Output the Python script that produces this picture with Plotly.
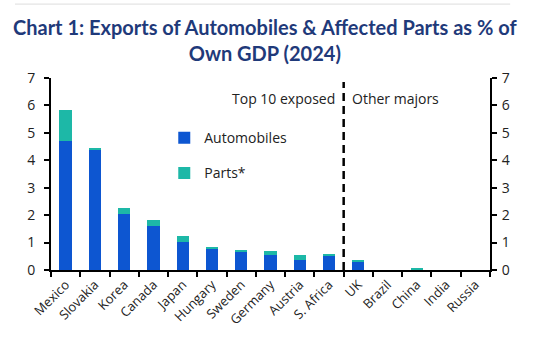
import plotly.graph_objects as go

countries = ["Mexico", "Slovakia", "Korea", "Canada", "Japan", "Hungary", "Sweden",
             "Germany", "Austria", "S. Africa", "UK", "Brazil", "China", "India", "Russia"]
automobiles = [4.71, 4.40, 2.03, 1.59, 1.01, 0.75, 0.68, 0.54, 0.35, 0.53, 0.32, 0.0, 0.0, 0.0, 0.0]
parts = [1.12, 0.05, 0.22, 0.22, 0.22, 0.08, 0.05, 0.15, 0.21, 0.02, 0.05, 0.0, 0.06, 0.0, 0.0]
y_ticks = [0, 1, 2, 3, 4, 5, 6, 7]

BLUE = "#0D56D1"
TEAL = "#1DB8A7"
NAVY = "#1F3A7A"
FONT = "Open Sans"

fig = go.Figure()
fig.add_trace(go.Bar(x=countries, y=automobiles, name="Automobiles", marker_color=BLUE,
                     marker_line_width=0, legendgroup="a", width=0.42))
fig.add_trace(go.Bar(x=countries, y=parts, name="Parts*", marker_color=TEAL,
                     marker_line_width=0, legendgroup="b", width=0.42))
# invisible trace for right axis
fig.add_trace(go.Scatter(x=[countries[0]], y=[0], yaxis="y2", mode="markers",
                         marker_opacity=0, showlegend=False, hoverinfo="skip"))

axis_common = dict(range=[0, 7], tickvals=y_ticks, ticks="outside", ticklen=5, tickwidth=2,
                   tickcolor="black", showline=True, linecolor="black", linewidth=2,
                   showgrid=False, zeroline=False,
                   tickfont=dict(family=FONT, size=14, color="#222"))

fig.update_layout(
    width=546, height=346,
    margin=dict(l=51, r=56, t=78, b=76),
    paper_bgcolor="white", plot_bgcolor="white",
    barmode="stack", bargap=0.58,
    title=dict(text="<b>Chart 1: Exports of Automobiles & Affected Parts as % of<br>Own GDP (2024)</b>",
               x=0.485, xanchor="center", xref="container", y=0.90, yanchor="top",
               font=dict(family="Lato", size=20, color=NAVY)),
    xaxis=dict(type="category", range=[-0.5, 14.5], tickangle=-45, ticks="outside",
               tickson="boundaries", ticklen=5, tickwidth=2, tickcolor="black",
               showline=True, linecolor="black", linewidth=2, showgrid=False,
               tickfont=dict(family=FONT, size=13, color="#222")),
    yaxis=dict(side="left", ticklabelstandoff=6, **axis_common),
    yaxis2=dict(side="right", overlaying="y", ticklabelstandoff=2, **axis_common),
    legend=dict(x=0.258, y=0.77, xanchor="left", yanchor="top", traceorder="grouped",
                tracegroupgap=14, bgcolor="rgba(0,0,0,0)",
                font=dict(family=FONT, size=14, color="#222"), itemwidth=30),
    showlegend=True,
    shapes=[
        dict(type="line", xref="x", yref="y", x0=9.5, x1=9.5, y0=0, y1=6.85,
             line=dict(color="black", width=2.5, dash="8px,5px")),
        dict(type="line", xref="paper", yref="paper", x0=-0.082, x1=1.046,
             y0=1.385, y1=1.385, line=dict(color="#DDDDDD", width=1)),
    ],
    annotations=[
        dict(text="Top 10 exposed", x=9.5, y=6.25, xref="x", yref="y", xanchor="right",
             xshift=-7, showarrow=False, font=dict(family=FONT, size=14, color="#222")),
        dict(text="Other majors", x=9.5, y=6.25, xref="x", yref="y", xanchor="left",
             xshift=6, showarrow=False, font=dict(family=FONT, size=14, color="#222")),
    ],
)

fig.write_html("out.html")
